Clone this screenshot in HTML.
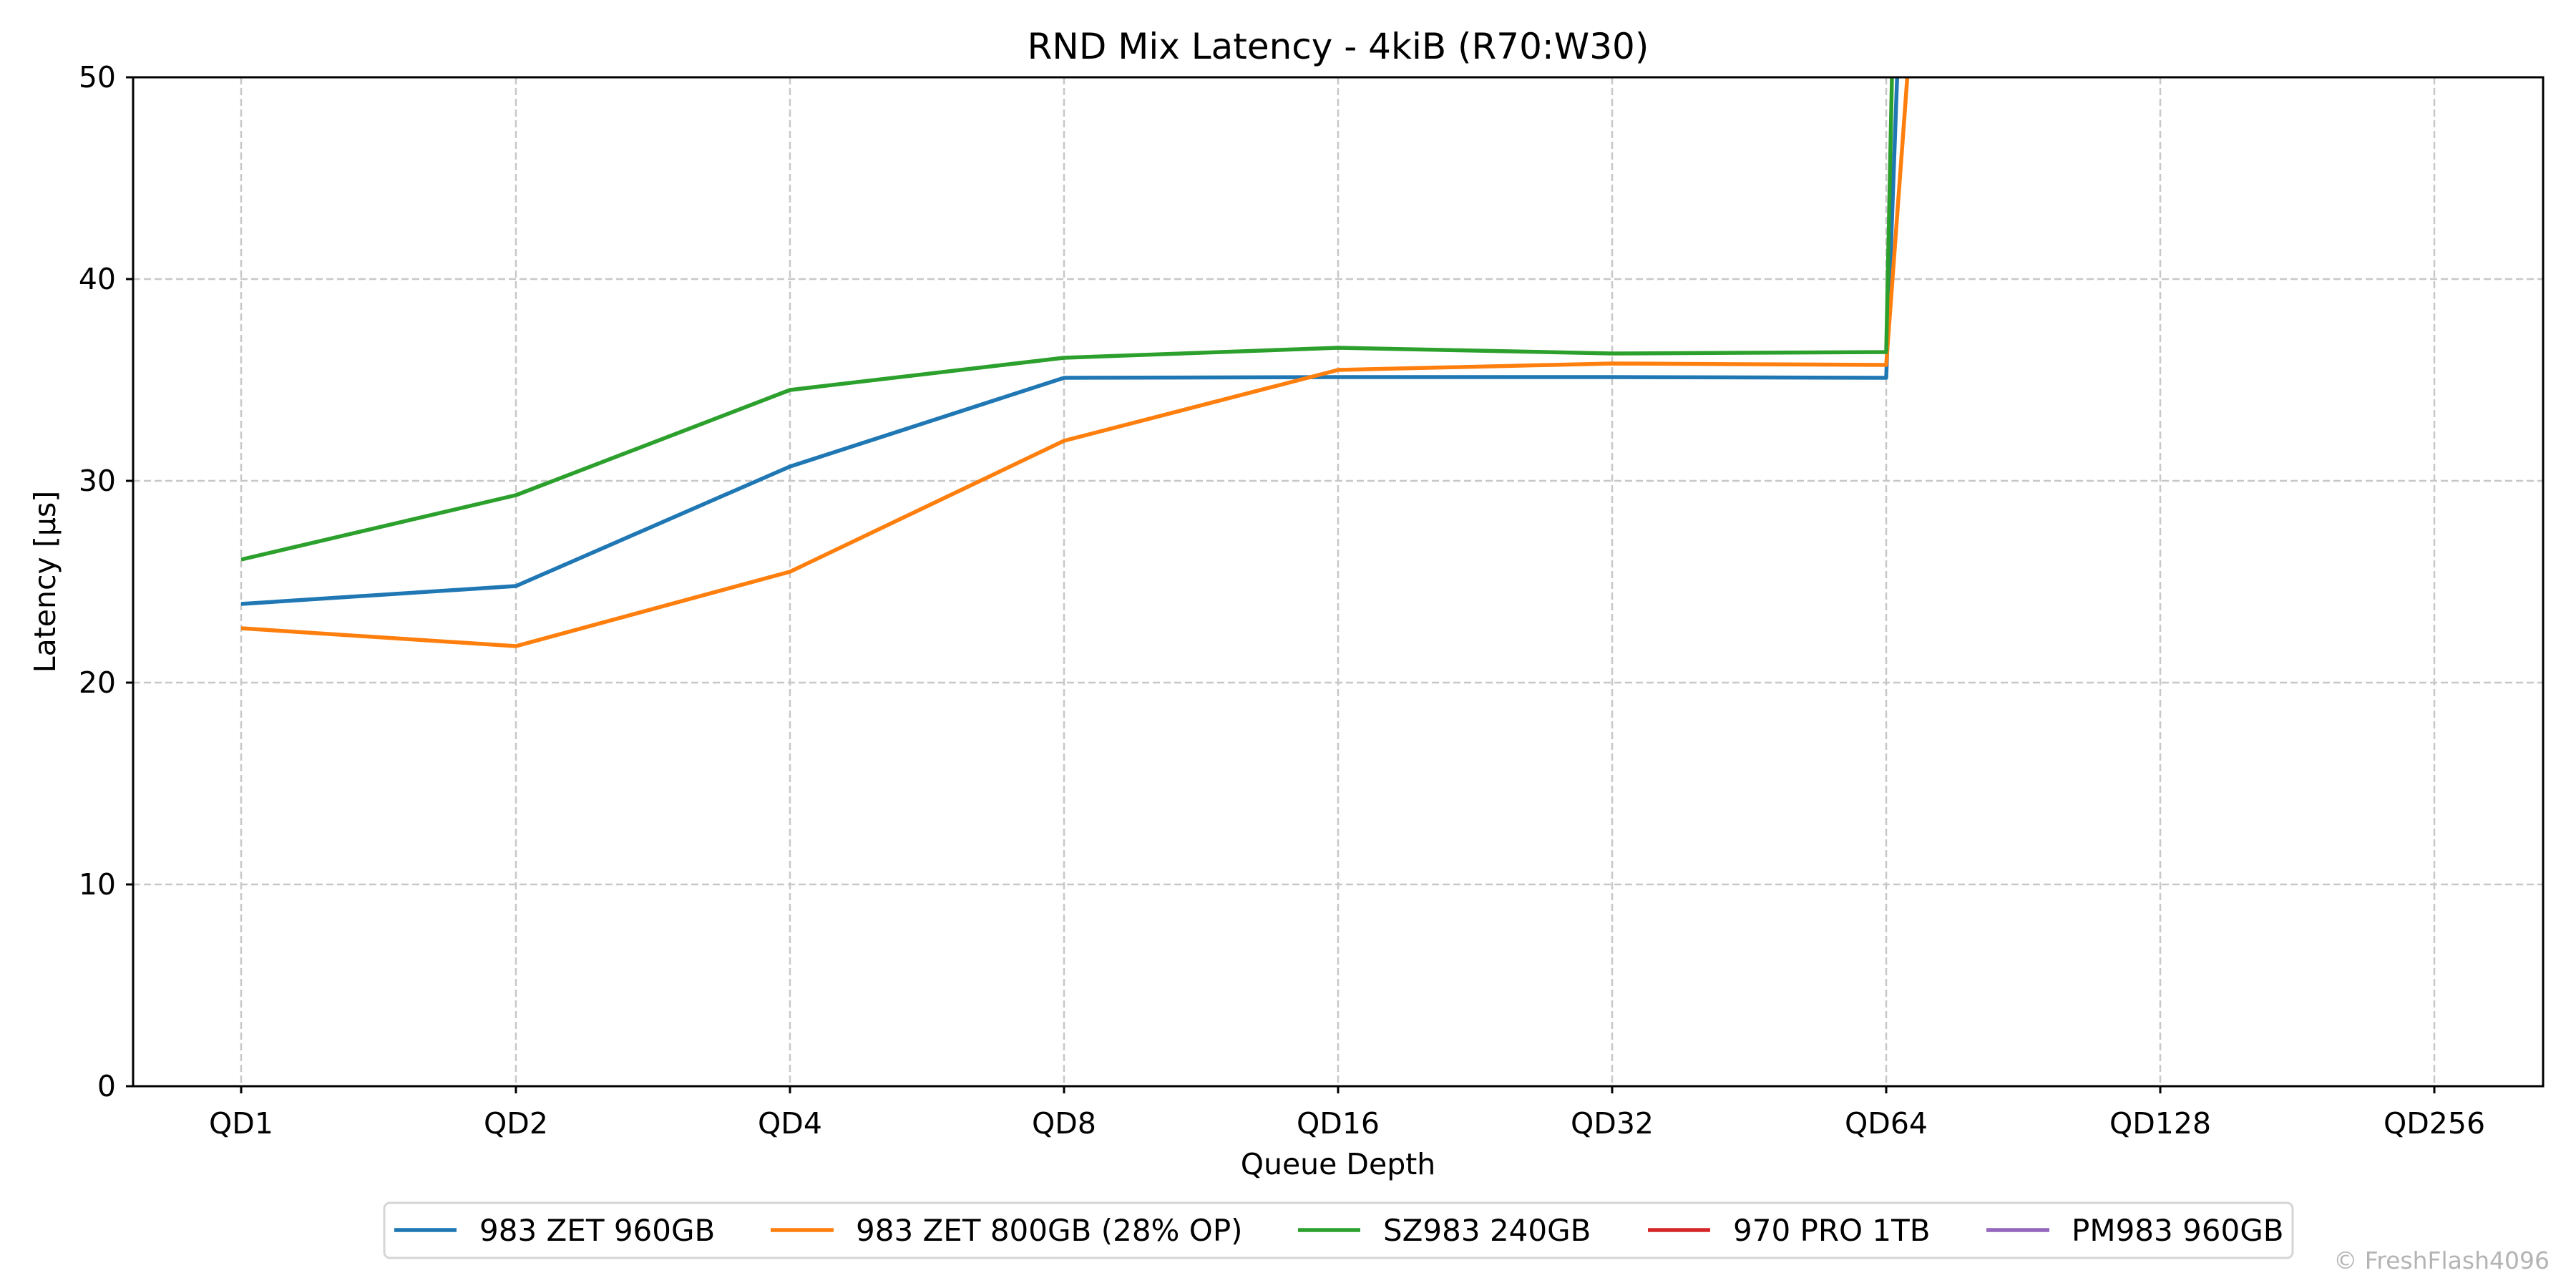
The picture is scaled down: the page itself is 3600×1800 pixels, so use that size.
<!DOCTYPE html>
<html><head><meta charset="utf-8"><style>
html,body{margin:0;padding:0;background:#fff;}
svg{display:block;}
text{font-family:"DejaVu Sans","Liberation Sans",sans-serif;}
</style></head><body>
<svg width="3600" height="1800" viewBox="0 0 3600 1800" xmlns="http://www.w3.org/2000/svg">
<rect width="3600" height="1800" fill="#fff"/>
<defs><clipPath id="c"><rect x="186" y="108" width="3368" height="1410"/></clipPath></defs>
<g stroke="#c8c8c8" stroke-width="2.5" stroke-dasharray="10,5" fill="none">
<line x1="186" y1="1236" x2="3554" y2="1236"/>
<line x1="186" y1="954" x2="3554" y2="954"/>
<line x1="186" y1="672" x2="3554" y2="672"/>
<line x1="186" y1="390" x2="3554" y2="390"/>
<line x1="337" y1="108" x2="337" y2="1518"/>
<line x1="721" y1="108" x2="721" y2="1518"/>
<line x1="1104" y1="108" x2="1104" y2="1518"/>
<line x1="1487" y1="108" x2="1487" y2="1518"/>
<line x1="1870" y1="108" x2="1870" y2="1518"/>
<line x1="2253" y1="108" x2="2253" y2="1518"/>
<line x1="2636" y1="108" x2="2636" y2="1518"/>
<line x1="3019" y1="108" x2="3019" y2="1518"/>
<line x1="3402" y1="108" x2="3402" y2="1518"/>
</g>
<g clip-path="url(#c)" fill="none" stroke-width="5.5" stroke-linejoin="round">
<polyline stroke="#1f77b4" points="337,844 721,819 1104,652 1487,528 1870,527 2253,527 2636,528 2653,60"/>
<polyline stroke="#ff7f0e" points="337,878 721,903 1104,799 1487,616 1870,517 2253,508 2636,510 2669,60"/>
<polyline stroke="#2ca02c" points="337,782 721,692 1104,545 1487,500 1870,486 2253,494 2636,492 2645,60"/>
</g>
<rect x="186" y="108" width="3368" height="1410" fill="none" stroke="#000" stroke-width="3"/>
<g stroke="#000" stroke-width="3">
<line x1="176" y1="1518" x2="186" y2="1518"/><line x1="176" y1="1236" x2="186" y2="1236"/>
<line x1="176" y1="954" x2="186" y2="954"/><line x1="176" y1="672" x2="186" y2="672"/>
<line x1="176" y1="390" x2="186" y2="390"/><line x1="176" y1="108" x2="186" y2="108"/>
<line x1="337" y1="1518" x2="337" y2="1528"/><line x1="721" y1="1518" x2="721" y2="1528"/>
<line x1="1104" y1="1518" x2="1104" y2="1528"/><line x1="1487" y1="1518" x2="1487" y2="1528"/>
<line x1="1870" y1="1518" x2="1870" y2="1528"/><line x1="2253" y1="1518" x2="2253" y2="1528"/>
<line x1="2636" y1="1518" x2="2636" y2="1528"/><line x1="3019" y1="1518" x2="3019" y2="1528"/>
<line x1="3402" y1="1518" x2="3402" y2="1528"/>
</g>
<g font-size="41" text-anchor="end" fill="#000">
<text x="162" y="1532">0</text><text x="162" y="1250">10</text><text x="162" y="968">20</text>
<text x="162" y="686">30</text><text x="162" y="404">40</text><text x="162" y="122">50</text>
</g>
<g font-size="41" text-anchor="middle" fill="#000">
<text x="337" y="1584">QD1</text><text x="721" y="1584">QD2</text><text x="1104" y="1584">QD4</text>
<text x="1487" y="1584">QD8</text><text x="1870" y="1584">QD16</text><text x="2253" y="1584">QD32</text>
<text x="2636" y="1584">QD64</text><text x="3019" y="1584">QD128</text><text x="3402" y="1584">QD256</text>
<text x="1870" y="1641">Queue Depth</text>
<text x="1870" y="82" font-size="50">RND Mix Latency - 4kiB (R70:W30)</text>
<text transform="translate(77,813) rotate(-90)">Latency [µs]</text>
</g>
<rect x="537" y="1681" width="2667" height="77" rx="8" fill="#fff" stroke="#d5d5d5" stroke-width="3"/>
<g stroke-width="5.5">
<line x1="551" y1="1719" x2="638" y2="1719" stroke="#1f77b4"/>
<line x1="1077" y1="1719" x2="1165" y2="1719" stroke="#ff7f0e"/>
<line x1="1814" y1="1719" x2="1901" y2="1719" stroke="#2ca02c"/>
<line x1="2303" y1="1719" x2="2390" y2="1719" stroke="#d62728"/>
<line x1="2776" y1="1719" x2="2864" y2="1719" stroke="#9467bd"/>
</g>
<g font-size="42" fill="#000">
<text x="670" y="1734">983 ZET 960GB</text>
<text x="1196" y="1734">983 ZET 800GB (28% OP)</text>
<text x="1933" y="1734">SZ983 240GB</text>
<text x="2422" y="1734">970 PRO 1TB</text>
<text x="2895" y="1734">PM983 960GB</text>
</g>
<text x="3563" y="1773" font-size="33" fill="#b4b4b4" text-anchor="end">© FreshFlash4096</text>
</svg>
</body></html>
